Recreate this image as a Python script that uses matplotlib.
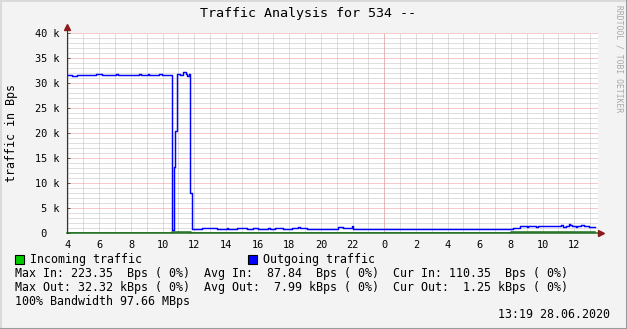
import matplotlib.pyplot as plt
from matplotlib.patches import Rectangle
from matplotlib.lines import Line2D

W, H = 627, 329

# outgoing traffic, kBps (step values starting at each hour mark)
out_hours = [3.96, 4.3, 4.6, 5.8, 6.2, 7.05, 7.2, 8.5, 8.65, 9.05, 9.15, 9.8, 9.95,
             10.59, 10.71, 10.80, 10.88, 11.1, 11.3, 11.45, 11.55, 11.65, 11.74,
             11.83, 12.47, 12.6, 12.7, 13.2, 13.41, 14.05, 14.15, 14.68, 15.31,
             15.73, 16.05, 16.68, 16.8, 17.1, 17.62, 18.15, 18.57, 18.7, 19.1,
             19.94, 20.78, 21.1, 21.41, 21.94, 22.05,
             29.9, 30.0, 30.85, 31.0, 31.45, 31.55, 31.8, 31.9, 32.1, 32.57,
             33.0, 33.1, 33.6, 33.7, 35.15, 35.3, 35.45, 35.65, 35.75, 35.85,
             36.1, 36.2, 36.45, 36.6, 36.75, 36.95, 37.1, 37.32]
out_kbps = [31.7, 31.5, 31.7, 31.8, 31.7, 31.9, 31.7, 31.9, 31.7, 31.9, 31.7, 31.9, 31.7,
            0.6, 13.2, 20.4, 31.8, 31.6, 32.3, 31.8, 31.5, 31.8, 8.0,
            0.8, 1.0, 1.1, 1.0, 1.1, 0.87, 1.1, 0.87, 1.0, 0.87,
            1.0, 0.87, 1.0, 0.87, 1.0, 0.87, 1.0, 1.2, 1.0, 0.87,
            0.73, 0.87, 1.13, 1.0, 1.47, 0.8,
            0.9, 0.8, 0.9, 0.8, 0.9, 0.8, 0.9, 0.8, 1.07, 1.4,
            1.3, 1.4, 1.3, 1.4, 1.6, 1.3, 1.4, 1.8, 1.6, 1.4,
            1.3, 1.4, 1.55, 1.4, 1.35, 1.3, 1.2, 1.2]

# incoming traffic, kBps
in_hours = [3.96, 10.6, 11.8, 20.0, 24.0, 28.0, 32.0, 37.32]
in_kbps = [0.09, 0.2, 0.08, 0.07, 0.1, 0.08, 0.11, 0.11]

x_ticks = [4, 6, 8, 10, 12, 14, 16, 18, 20, 22, 24, 26, 28, 30, 32, 34, 36]
x_labels = ['4', '6', '8', '10', '12', '14', '16', '18', '20', '22',
            '0', '2', '4', '6', '8', '10', '12']
y_ticks = [0, 5, 10, 15, 20, 25, 30, 35, 40]
y_labels = [' 0', ' 5 k', '10 k', '15 k', '20 k', '25 k', '30 k', '35 k', '40 k']

title = 'Traffic Analysis for 534 --'
legend_in = 'Incoming traffic'
legend_out = 'Outgoing traffic'
stats_in = 'Max In: 223.35  Bps ( 0%)  Avg In:  87.84  Bps ( 0%)  Cur In: 110.35  Bps ( 0%)'
stats_out = 'Max Out: 32.32 kBps ( 0%)  Avg Out:  7.99 kBps ( 0%)  Cur Out:  1.25 kBps ( 0%)'
bandwidth = '100% Bandwidth 97.66 MBps'
stamp = '13:19 28.06.2020'

mono = 'DejaVu Sans Mono'


def fx(x):
    return x / W


def fy(y):
    return 1 - y / H


fig = plt.figure(figsize=(W / 100, H / 100), dpi=100, facecolor='#F3F3F3')
ax = fig.add_axes([fx(67), fy(233), 531 / W, 200 / H])
ax.set_facecolor('white')
ax.set_xlim(3.96, 37.5)
ax.set_ylim(0, 40)

# grid (dotted)
dots = (0, (1, 1))
ax.set_yticks(y_ticks)
ax.set_yticks(range(0, 41), minor=True)
ax.set_xticks(x_ticks)
ax.set_xticks(range(4, 38), minor=True)
ax.xaxis.remove_overlapping_locs = False
ax.grid(which='minor', color='#BEBEBE', linestyle=dots, linewidth=0.72)
ax.grid(which='major', axis='y', color='#F09494', linestyle=dots, linewidth=0.72)
ax.axvline(24, color='#F09494', linestyle=dots, linewidth=0.72, zorder=1.5)
ax.set_axisbelow(True)

ax.set_xticklabels(x_labels, fontfamily=mono, fontsize=7.4)
ax.set_yticklabels(y_labels, fontfamily=mono, fontsize=7.4)
plt.setp(ax.get_yticklabels(), ha='left')
ax.tick_params(axis='x', which='both', length=0, pad=5)
ax.tick_params(axis='y', which='major', direction='in', length=1.8, width=0.7,
               color='#555555', pad=22.7)
ax.tick_params(axis='y', which='minor', length=0)

for s in ['top', 'right', 'bottom', 'left']:
    ax.spines[s].set_visible(False)

# data lines
ax.plot(in_hours, in_kbps, drawstyle='steps-post', color='#1E6E1E', lw=1.1, zorder=3)
ax.plot(out_hours, out_kbps, drawstyle='steps-post', color='#0000FF', lw=1.05, zorder=4)

# axes with arrows
ax.plot([0, 0], [0, 1.02], transform=ax.transAxes, color='#333333', lw=0.8,
        clip_on=False, zorder=5)
ax.plot([0, 1.0], [0, 0], transform=ax.transAxes, color='#1E6E1E', lw=1.1,
        clip_on=False, zorder=2)
ax.plot([0], [1.03], transform=ax.transAxes, marker='^', color='#8B1A1A',
        markersize=4, clip_on=False, zorder=6)
ax.plot([1.005], [0], transform=ax.transAxes, marker='>', color='#8B1A1A',
        markersize=4, clip_on=False, zorder=6)

ax.set_ylabel('traffic in Bps', fontfamily=mono, fontsize=8.4, va='center')
ax.yaxis.set_label_coords(fx(12), 0.5 * (fy(33) + fy(233)), transform=fig.transFigure)

fig.text(fx(308.5), fy(14), title, fontfamily=mono, fontsize=9.6,
         ha='center', va='center')
fig.text(fx(619), fy(5), 'RRDTOOL / TOBI OETIKER', fontfamily=mono, fontsize=5.8,
         color='#A8A8A8', rotation=270, ha='center', va='top')

# legend
fig.patches.append(Rectangle((fx(15), fy(263.5)), 9 / W, 9 / H, transform=fig.transFigure,
                             facecolor='#00CC00', edgecolor='black', lw=0.8))
fig.patches.append(Rectangle((fx(248.3), fy(263.5)), 9 / W, 9 / H, transform=fig.transFigure,
                             facecolor='#0000FF', edgecolor='black', lw=0.8))
fig.text(fx(30.5), fy(259), legend_in, fontfamily=mono, fontsize=8.4, va='center')
fig.text(fx(263), fy(259), legend_out, fontfamily=mono, fontsize=8.4, va='center')
fig.text(fx(15.5), fy(273.3), stats_in, fontfamily=mono, fontsize=8.4, va='center')
fig.text(fx(15.5), fy(287.3), stats_out, fontfamily=mono, fontsize=8.4, va='center')
fig.text(fx(15.5), fy(301.3), bandwidth, fontfamily=mono, fontsize=8.4, va='center')
fig.text(fx(610.5), fy(315), stamp, fontfamily=mono, fontsize=8.4, va='center', ha='right')

# frame shading
fig.add_artist(Line2D([0, 0, 1], [0, 1, 1], transform=fig.transFigure,
                      color='#DADADA', lw=2.2))
fig.add_artist(Line2D([0, 1, 1], [0, 0, 1], transform=fig.transFigure,
                      color='#9A9A9A', lw=2.2))

fig.savefig('out.png', dpi=100, facecolor=fig.get_facecolor())
